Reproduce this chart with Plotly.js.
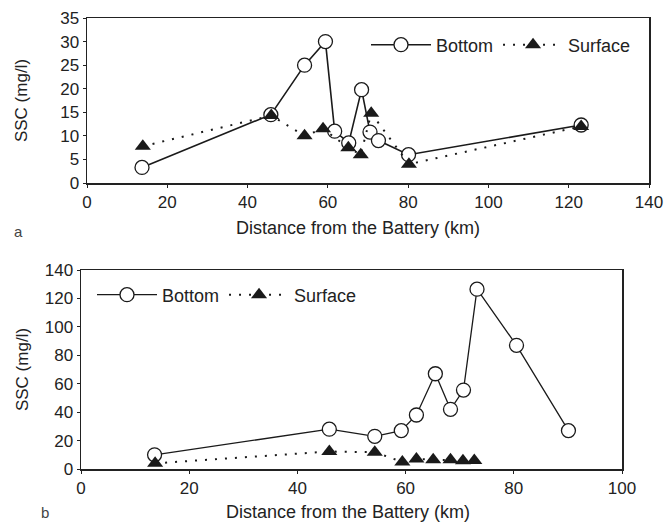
<!DOCTYPE html>
<html><head><meta charset="utf-8">
<script src="https://cdn.plot.ly/plotly-3.0.1.min.js"></script>
<style>html,body{margin:0;padding:0;background:#fff}#chart{width:665px;height:527px}</style>
</head><body><div id="chart"></div>
<script>
// Panel a
const aBottomX = [13.7, 45.8, 54.2, 59.4, 61.7, 65.2, 68.4, 70.5, 72.6, 80.1, 123.1];
const aBottomY = [3.3, 14.5, 25, 30, 11, 8.5, 19.8, 10.8, 9, 6, 12.3];
const aSurfaceX = [13.9, 45.9, 54.2, 58.8, 65.1, 68.2, 70.8, 80.2, 123.1];
const aSurfaceY = [7.8, 14.3, 10, 11.5, 7.5, 6, 14.8, 4, 12];
// Panel b
const bBottomX = [13.6, 45.9, 54.3, 59.2, 62, 65.5, 68.3, 70.7, 73.2, 80.5, 90.1];
const bBottomY = [10, 28, 23, 27, 38, 67, 42, 55.5, 126.5, 87, 27];
const bSurfaceX = [13.7, 45.9, 54.3, 59.4, 62, 65.1, 68.3, 70.6, 72.7];
const bSurfaceY = [4, 12.3, 11.8, 5, 7, 6.5, 6.5, 5.8, 6];

const seriesNames = ["Bottom", "Surface"];
const axisTitleX = "Distance from the Battery (km)";
const axisTitleY = "SSC (mg/l)";

const FONT = "Liberation Sans, Arial, sans-serif";
const INK = "#1a1a1a";
const circ = {symbol: "circle", size: 14, color: "#fff", line: {color: INK, width: 1.3}};
const tri = {symbol: "triangle-up", size: 14, color: INK};

const traces = [
  {x: aBottomX, y: aBottomY, name: seriesNames[0], mode: "lines+markers", xaxis: "x", yaxis: "y",
   line: {color: INK, width: 1.6}, marker: circ, legend: "legend"},
  {x: aSurfaceX, y: aSurfaceY, name: seriesNames[1], mode: "lines+markers", xaxis: "x", yaxis: "y",
   line: {color: INK, width: 2, dash: "2px,8px"}, marker: tri, legend: "legend"},
  {x: bBottomX, y: bBottomY, name: seriesNames[0], mode: "lines+markers", xaxis: "x2", yaxis: "y2",
   line: {color: INK, width: 1.3}, marker: circ, legend: "legend2"},
  {x: bSurfaceX, y: bSurfaceY, name: seriesNames[1], mode: "lines+markers", xaxis: "x2", yaxis: "y2",
   line: {color: INK, width: 2, dash: "2px,8px"}, marker: tri, legend: "legend2"}
];

const ax = {
  showgrid: false, zeroline: false, showline: true, mirror: true, linecolor: "#222", linewidth: 1.5,
  ticks: "outside", ticklen: 3, tickcolor: "#222",
  tickfont: {family: FONT, size: 17, color: "#222"}
};
const titleFont = {family: FONT, size: 17, color: "#222"};

const W = 665, H = 527;
const layout = {
  width: W, height: H, margin: {l: 0, r: 0, t: 0, b: 0},
  paper_bgcolor: "#fff", plot_bgcolor: "#fff",
  font: {family: FONT, color: "#222"},
  xaxis: Object.assign({}, ax, {domain: [87 / W, 649 / W], range: [0, 140], dtick: 20, anchor: "y"}),
  yaxis: Object.assign({}, ax, {domain: [1 - 183 / H, 1 - 18 / H], range: [0, 35], dtick: 5, anchor: "x",
    title: {text: axisTitleY, font: titleFont, standoff: 28}}),
  xaxis2: Object.assign({}, ax, {domain: [81 / W, 622 / W], range: [0, 100], dtick: 20, anchor: "y2"}),
  yaxis2: Object.assign({}, ax, {domain: [1 - 469 / H, 1 - 270 / H], range: [0, 140], dtick: 20, anchor: "x2",
    title: {text: axisTitleY, font: titleFont, standoff: 12}}),
  legend: {orientation: "h", x: 366 / W, y: 1 - 45 / H, xanchor: "left", yanchor: "middle",
    bgcolor: "rgba(0,0,0,0)", font: {family: FONT, size: 18, color: "#222"}, itemwidth: 60},
  legend2: {orientation: "h", x: 92 / W, y: 1 - 295 / H, xanchor: "left", yanchor: "middle",
    bgcolor: "rgba(0,0,0,0)", font: {family: FONT, size: 18, color: "#222"}, itemwidth: 60},
  annotations: [
    {text: axisTitleX, xref: "paper", yref: "paper", x: 358 / W, y: 1 - 228 / H, showarrow: false,
     xanchor: "center", yanchor: "middle", font: {family: FONT, size: 18, color: "#222"}},
    {text: axisTitleX, xref: "paper", yref: "paper", x: 348 / W, y: 1 - 512 / H, showarrow: false,
     xanchor: "center", yanchor: "middle", font: {family: FONT, size: 18, color: "#222"}},
    {text: "a", xref: "paper", yref: "paper", x: 18 / W, y: 1 - 232 / H, showarrow: false,
     xanchor: "center", yanchor: "middle", font: {family: FONT, size: 15, color: "#444"}},
    {text: "b", xref: "paper", yref: "paper", x: 45 / W, y: 1 - 512 / H, showarrow: false,
     xanchor: "center", yanchor: "middle", font: {family: FONT, size: 15, color: "#444"}}
  ],
  showlegend: true
};

Plotly.newPlot("chart", traces, layout, {displayModeBar: false, staticPlot: true});
</script>
</body></html>
